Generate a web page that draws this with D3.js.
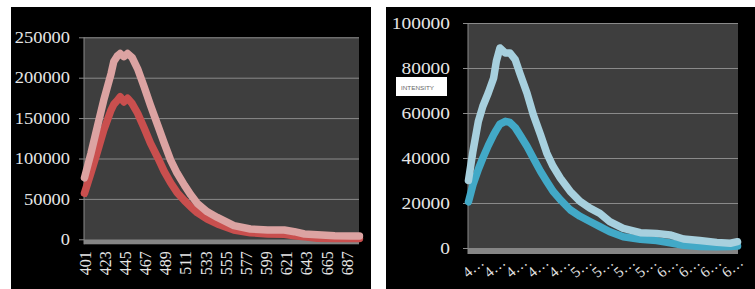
<!DOCTYPE html>
<html>
<head>
  <title>Intensity spectra</title>
  <script src="https://d3js.org/d3.v7.min.js"></script>
  <style>
    body { margin: 0; background: #fff; }
    svg text { font-family: "Liberation Serif", "Times New Roman", serif; }
    .gridlines line { stroke: #8a8a8a; }
    .gridlines .domain { stroke: none; }
    .yaxis line, .yaxis path { stroke: #8a8a8a; }
    .xaxis line, .xaxis path { stroke: none; }
  </style>
</head>
<body>
<svg id="chart" width="755" height="289"></svg>
<script>
// left panel (red spectra)
const leftWavelengths = [401, 408, 415, 422, 430, 433, 437, 440, 444, 448, 453, 459, 466, 473, 481, 488, 495,
                         502, 510, 517, 524, 535, 546, 564, 582, 601, 619, 630, 641, 655, 674, 692, 701];
const leftUpper = [76000, 106000, 139000, 172000, 205000, 220000, 227000, 230000, 226000, 230000, 225000, 211000,
                   189000, 166000, 141000, 119000, 98000, 82000, 67000, 55000, 44500, 34000, 27000, 17000, 12700,
                   11500, 11500, 9400, 6600, 5700, 4500, 4000, 4000];
const leftLower = [57000, 82000, 108000, 135000, 160000, 167000, 172000, 176500, 170000, 174500, 168000, 156000,
                   138000, 119000, 101000, 84000, 70000, 58000, 48000, 40000, 33000, 25000, 19000, 11500, 8200,
                   6600, 6200, 4500, 3000, 1300, 1000, 1000, 1000];
const leftYTicks = [0, 50000, 100000, 150000, 200000, 250000];
const leftXTicks = [401, 423, 445, 467, 489, 511, 533, 555, 577, 599, 621, 643, 665, 687];

// right panel (blue spectra)
const rightWavelengths = [401, 406, 412, 417, 423, 429, 432, 436, 442, 447, 453, 458, 466, 473, 481, 488, 495,
                          503, 514, 525, 536, 547, 558, 573, 592, 610, 625, 640, 658, 677, 692, 700];
const rightUpper = [30000, 43000, 56300, 63000, 68900, 75600, 83000, 88900, 86700, 86700, 83700, 77800, 68900,
                    59300, 50400, 42200, 36300, 31100, 25200, 20700, 17700, 15400, 11700, 8700, 6800, 6500, 5800,
                    4000, 3300, 2500, 2100, 2800];
const rightLower = [20500, 28100, 35000, 40000, 45500, 50400, 52500, 55100, 56300, 55800, 53500, 50400, 45200,
                    40000, 34100, 29600, 25200, 21500, 17000, 14100, 11800, 9500, 7200, 5000, 3900, 3300, 2300,
                    1200, 700, 600, 700, 900];
const rightYTicks = [0, 20000, 40000, 60000, 80000, 100000];
const rightXTicks = [401, 425, 449, 473, 497, 521, 545, 569, 593, 617, 641, 665, 689];
const rightXLabels = ["4…", "4…", "4…", "4…", "4…", "5…", "5…", "5…", "5…", "6…", "6…", "6…", "6…"];

let svg = d3.select("#chart");

function drawPanel(p) {
  // black frame
  svg.append("rect")
    .attr("x", p.frame[0]).attr("y", p.frame[1])
    .attr("width", p.frame[2]).attr("height", p.frame[3])
    .attr("fill", "#000");

  let xScale = d3.scaleLinear().domain([400.5, 700.5]).range([p.left, p.right]);
  let yScale = d3.scaleLinear().domain([0, p.yMax]).range([p.bottom, p.top]);

  // plot area + floor
  svg.append("rect")
    .attr("x", p.left).attr("y", p.top)
    .attr("width", p.right - p.left).attr("height", p.bottom - p.top)
    .attr("fill", "#3e3e3e");
  svg.append("rect")
    .attr("x", p.left).attr("y", p.bottom)
    .attr("width", p.right - p.left).attr("height", p.floor)
    .attr("fill", "#858585");

  // gridlines
  svg.append("g")
    .attr("class", "gridlines")
    .attr("transform", `translate(${p.left}, 0)`)
    .call(d3.axisLeft(yScale).tickValues(p.yTicks.slice(1)).tickSize(-(p.right - p.left)).tickFormat(""));

  // y axis
  let gy = svg.append("g")
    .attr("class", "yaxis")
    .attr("transform", `translate(${p.left}, 0)`)
    .call(d3.axisLeft(yScale).tickValues(p.yTicks).tickSize(5).tickSizeOuter(0)
      .tickPadding(p.yPad).tickFormat(d3.format("d")));
  gy.select(".domain").attr("d", `M0,${p.top}V${p.bottom + p.floor}`);
  gy.selectAll("text")
    .attr("fill", "#e6e6e6")
    .style("font-size", p.yFont + "px")
    .attr("textLength", d => String(d).length * p.digitW)
    .attr("lengthAdjust", "spacingAndGlyphs");

  // x axis
  let gx = svg.append("g")
    .attr("class", "xaxis")
    .attr("transform", `translate(0, ${p.bottom + p.floor})`)
    .call(d3.axisBottom(xScale).tickValues(p.xTicks).tickSize(0)
      .tickFormat((d, i) => p.xLabels ? p.xLabels[i] : d));
  p.styleX(gx.selectAll("text"));

  // lines
  let line = d3.line()
    .x((d, i) => xScale(p.wavelengths[i]))
    .y(d => yScale(d));

  p.series.forEach(s => {
    svg.append("path")
      .datum(s.values)
      .attr("d", line)
      .attr("fill", "none")
      .attr("stroke", s.color)
      .attr("stroke-width", 7.5)
      .attr("stroke-linejoin", "round")
      .attr("stroke-linecap", "round");
  });
}

drawPanel({
  frame: [11, 7, 360, 285],
  left: 84, right: 359, top: 37.3, bottom: 239.3, floor: 5,
  yMax: 250000, yTicks: leftYTicks, yPad: 9, yFont: 16, digitW: 9.2,
  xTicks: leftXTicks,
  wavelengths: leftWavelengths,
  series: [
    {values: leftLower, color: "#c94f4e"},
    {values: leftUpper, color: "#dca3a2"}
  ],
  styleX: t => t
    .attr("fill", "#e6e6e6")
    .style("font-size", "16px")
    .attr("transform", "rotate(-90)")
    .attr("text-anchor", "end")
    .attr("x", -7).attr("y", 0).attr("dy", "0.35em")
});

drawPanel({
  frame: [386, 7, 372, 285],
  left: 468, right: 738, top: 23, bottom: 248, floor: 6,
  yMax: 100000, yTicks: rightYTicks, yPad: 13, yFont: 17, digitW: 9.7,
  xTicks: rightXTicks, xLabels: rightXLabels,
  wavelengths: rightWavelengths,
  series: [
    {values: rightLower, color: "#42a9c7"},
    {values: rightUpper, color: "#a7d0de"}
  ],
  styleX: t => t
    .attr("fill", "#e6e6e6")
    .style("font-size", "15px")
    .attr("text-anchor", "middle")
    .attr("x", 4).attr("y", 13).attr("dy", "0.35em")
    .attr("transform", "rotate(-40, 4, 13)")
});

// small legend-like box
svg.append("rect")
  .attr("x", 396).attr("y", 77).attr("width", 51).attr("height", 19)
  .attr("fill", "#fff");
svg.append("text")
  .attr("x", 401).attr("y", 89.5)
  .attr("fill", "#666")
  .style("font-family", "'Liberation Sans', Arial, sans-serif")
  .style("font-size", "6px")
  .attr("textLength", 33)
  .attr("lengthAdjust", "spacingAndGlyphs")
  .text("INTENSITY");
</script>
</body>
</html>
